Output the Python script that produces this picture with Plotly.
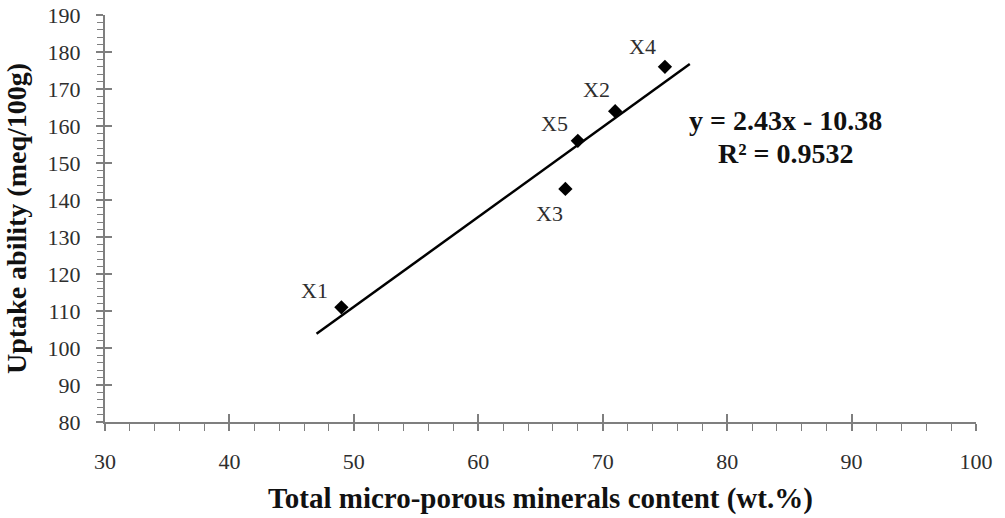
import numpy as np
import plotly.graph_objects as go

# Data
samples = ["X1", "X2", "X3", "X4", "X5"]
mineral_content = [49, 71, 67, 75, 68]      # Total micro-porous minerals content (wt.%)
uptake_ability = [111, 164, 143, 176, 156]  # meq/100g
trend_x_range = [47, 77]

x_ticks = [30, 40, 50, 60, 70, 80, 90, 100]
y_ticks = [80, 90, 100, 110, 120, 130, 140, 150, 160, 170, 180, 190]

# Linear least-squares trendline from the data
slope, intercept = np.polyfit(mineral_content, uptake_ability, 1)
r2 = np.corrcoef(mineral_content, uptake_ability)[0, 1] ** 2
tx = np.array(trend_x_range, dtype=float)
ty = slope * tx + intercept

SERIF = "Liberation Serif, Times New Roman, serif"
AX = "#7f7f7f"
TXT = "#2e2e2e"

fig = go.Figure()
fig.add_trace(go.Scatter(x=tx, y=ty, mode="lines",
                         line=dict(color="black", width=2.5),
                         showlegend=False, hoverinfo="skip"))
fig.add_trace(go.Scatter(x=mineral_content, y=uptake_ability, mode="markers",
                         marker=dict(symbol="diamond", size=11, color="black"),
                         showlegend=False))

# Point labels (offsets in pixels: right, down)
label_offsets = {"X1": (-27, -17), "X2": (-19, -22), "X3": (-16, 25),
                 "X4": (-22, -20), "X5": (-23, -17)}
for s, xv, yv in zip(samples, mineral_content, uptake_ability):
    dx, dy = label_offsets[s]
    fig.add_annotation(x=xv, y=yv, text=s, showarrow=False,
                       xshift=dx, yshift=-dy,
                       font=dict(family=SERIF, size=22, color=TXT))

fig.add_annotation(x=84.7, y=161.5, text=f"<b>y = {slope:.2f}x - {abs(intercept):.2f}</b>",
                   showarrow=False, font=dict(family=SERIF, size=28, color="#111"))
fig.add_annotation(x=84.7, y=152.6, text=f"<b>R² = {r2:.4f}</b>",
                   showarrow=False, font=dict(family=SERIF, size=28, color="#111"))

axis_common = dict(showgrid=False, zeroline=False, showline=True, automargin=False,
                   linecolor=AX, linewidth=2, tickcolor=AX, tickwidth=1.5,
                   ticks="outside", ticklen=7, ticklabeloverflow="allow",
                   tickfont=dict(family=SERIF, size=22, color=TXT))

fig.update_layout(
    width=1005, height=518,
    margin=dict(l=105, r=29, t=15, b=96),
    paper_bgcolor="white", plot_bgcolor="white",
    xaxis=dict(range=[30, 100], tickvals=x_ticks, **axis_common,
               ticklabelstandoff=12,
               minor=dict(dtick=2, ticks="outside", ticklen=7,
                          tickcolor=AX, tickwidth=1.2),
               title=dict(text="<b>Total micro-porous minerals content (wt.%)</b>",
                          font=dict(family=SERIF, size=29, color="#111"),
                          standoff=14)),
    yaxis=dict(range=[80, 190], tickvals=y_ticks, **axis_common,
               ticklabelstandoff=11,
               minor=dict(dtick=2, ticks="outside", ticklen=6,
                          tickcolor=AX, tickwidth=1.2),
               title=dict(text="<b>Uptake ability (meq/100g)</b>",
                          font=dict(family=SERIF, size=28, color="#111"),
                          standoff=13)),
    # overlay axes for the inside half of the crossing major ticks
    xaxis2=dict(range=[30, 100], tickvals=x_ticks, overlaying="x",
                matches="x", showgrid=False, zeroline=False, showline=False,
                automargin=False,
                ticks="inside", ticklen=8, tickcolor=AX, tickwidth=1.5,
                showticklabels=False, side="bottom"),
    yaxis2=dict(range=[80, 190], tickvals=y_ticks, overlaying="y",
                matches="y", showgrid=False, zeroline=False, showline=False,
                automargin=False,
                ticks="inside", ticklen=7, tickcolor=AX, tickwidth=1.5,
                showticklabels=False, side="left"),
)
fig.add_trace(go.Scatter(x=[None], y=[None], xaxis="x2", yaxis="y2",
                         showlegend=False, hoverinfo="skip"))

# remove the default 8px page margin so the figure sits at the window origin
fig.write_html("out.html", config={"displayModeBar": False},
               post_script="document.body.style.margin='0px';")
